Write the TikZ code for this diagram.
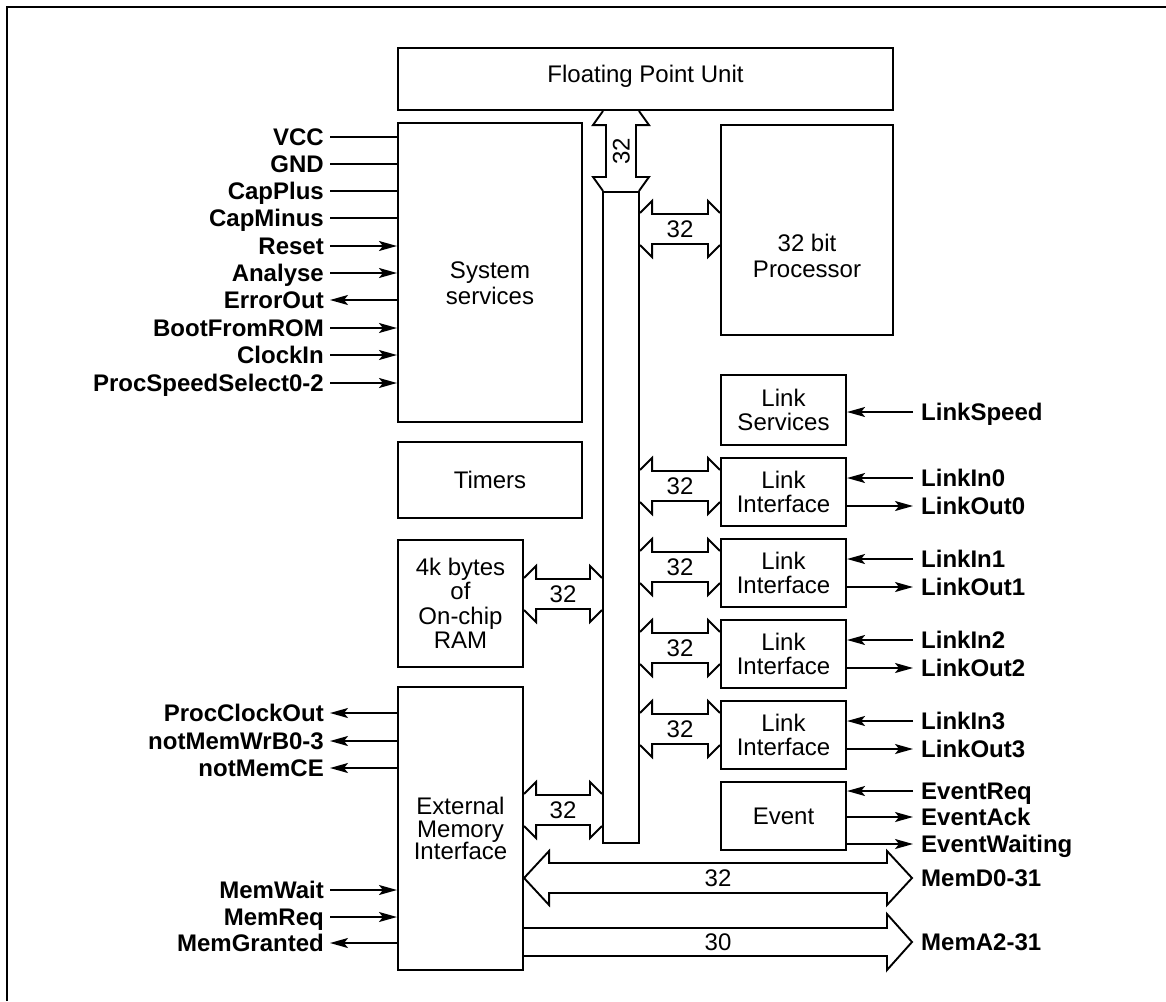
\documentclass[tikz,border=0pt]{standalone}
\usepackage{fontspec}
\setmainfont{Liberation Sans}
\usetikzlibrary{arrows.meta,calc}

%% 双向总线箭头（平头），#1 左端 / 上端，#2 右端 / 下端，#3 位宽
\newcommand{\hbus}[3]{%
  \draw[busline] let \p1=(#1), \p2=(#2) in
    (\x1,\y1+16pt) -- (\x1+12pt,\y1+28pt) -- (\x1+12pt,\y1+15pt) -- (\x2-12pt,\y1+15pt) -- (\x2-12pt,\y1+28pt) -- (\x2,\y1+16pt)
    (\x1,\y1-16pt) -- (\x1+12pt,\y1-28pt) -- (\x1+12pt,\y1-15pt) -- (\x2-12pt,\y1-15pt) -- (\x2-12pt,\y1-28pt) -- (\x2,\y1-16pt)
    ({0.5*\x1+0.5*\x2},\y1) node[buslbl] {#3};%
}
\newcommand{\vbus}[3]{%
  \draw[busline] let \p1=(#1), \p2=(#2) in
    (\x1-18pt,\y1) -- (\x1-28pt,\y1-14pt) -- (\x1-15pt,\y1-14pt) -- (\x1-15pt,\y2+14pt) -- (\x1-28pt,\y2+14pt) -- (\x1-18pt,\y2)
    (\x1+18pt,\y1) -- (\x1+28pt,\y1-14pt) -- (\x1+15pt,\y1-14pt) -- (\x1+15pt,\y2+14pt) -- (\x1+28pt,\y2+14pt) -- (\x1+18pt,\y2)
    (\x1,{0.5*\y1+0.5*\y2}) node[buslbl,rotate=90] {#3};%
}

\begin{document}
\begin{tikzpicture}[x=1pt, y=-1pt, line cap=butt, line join=miter,
  blk/.style={draw, line width=2.1pt, inner sep=0pt, align=center, font=\fontsize{24}{24.5}\selectfont},
  txt/.style={inner sep=0pt, align=center, font=\fontsize{24}{26}\selectfont},
  lbl/.style={inner sep=0pt, font=\fontsize{24}{26}\selectfont\bfseries, text height=17.2pt, text depth=0pt},
  buslbl/.style={inner sep=0pt, font=\fontsize{24}{26}\selectfont, text height=17.2pt, text depth=0pt},
  busline/.style={line width=1.9pt},
  sigln/.style={line width=1.8pt},
  sigarr/.style={line width=1.8pt, -{Stealth[length=18pt,width=10pt,inset=4pt]}}]

  %% ════ 外框 ════
  \draw[line width=2.2pt] (7,1001) -- (7,7) -- (1166,7);

  %% ════ 模块 ════
  \node[blk, minimum width=495, minimum height=62] (fpu) at (645.5,79) {};
  \node[txt] at (645.5,76) {Floating Point Unit};
  \node[blk, minimum width=184, minimum height=299] (sys) at (490,272.5) {};
  \node[txt] at (490,283) {System\\services};
  \node[blk, minimum width=184, minimum height=76] (tmr) at (490,480) {Timers};
  \node[blk, minimum width=125, minimum height=127] (ram) at (460.5,603.5) {4k bytes\\of\\On-chip\\RAM};
  \node[blk, minimum width=125, minimum height=283, font=\fontsize{24}{22.5}\selectfont] (ext) at (460.5,828.5) {External\\Memory\\Interface};
  \node[blk, minimum width=36, minimum height=651] (bus) at (621,517.5) {};
  \node[blk, minimum width=172, minimum height=210] (proc) at (807,230) {};
  \node[txt] at (807,256) {32 bit\\Processor};
  \node[blk, minimum width=125, minimum height=70] (lsvc) at (783.5,410) {Link\\Services};
  \node[blk, minimum width=125, minimum height=68] (li0) at (783.5,492) {Link\\Interface};
  \node[blk, minimum width=125, minimum height=68] (li1) at (783.5,573) {Link\\Interface};
  \node[blk, minimum width=125, minimum height=68] (li2) at (783.5,654) {Link\\Interface};
  \node[blk, minimum width=125, minimum height=68] (li3) at (783.5,735) {Link\\Interface};
  \node[blk, minimum width=125, minimum height=68] (event) at (783.5,816) {Event};

  %% ════ 内部总线 ════
  \coordinate (procport) at ([yshift=1pt]proc.west);
  \coordinate (li0port) at ([yshift=6pt]li0.west);
  \coordinate (li1port) at ([yshift=6pt]li1.west);
  \coordinate (li2port) at ([yshift=6pt]li2.west);
  \coordinate (li3port) at ([yshift=6pt]li3.west);
  \coordinate (ramport) at ([yshift=9.5pt]ram.east);
  \coordinate (extport) at ([yshift=18.5pt]ext.east);
  \vbus{fpu.south -| bus.north}{bus.north}{32}
  \hbus{procport -| bus.east}{procport}{32}
  \hbus{li0port -| bus.east}{li0port}{32}
  \hbus{li1port -| bus.east}{li1port}{32}
  \hbus{li2port -| bus.east}{li2port}{32}
  \hbus{li3port -| bus.east}{li3port}{32}
  \hbus{ramport}{ramport -| bus.west}{32}
  \hbus{extport}{extport -| bus.west}{32}

  %% ════ 左侧引脚 ════
  \node[lbl, anchor=east] (vcc)  at (324,137) {VCC};
  \node[lbl, anchor=east] (gnd)  at (324,164) {GND};
  \node[lbl, anchor=east] (capp) at (324,191) {CapPlus};
  \node[lbl, anchor=east] (capm) at (324,218) {CapMinus};
  \node[lbl, anchor=east] (rst)  at (324,246) {Reset};
  \node[lbl, anchor=east] (anl)  at (324,273) {Analyse};
  \node[lbl, anchor=east] (err)  at (324,300) {ErrorOut};
  \node[lbl, anchor=east] (boot) at (324,328) {BootFromROM};
  \node[lbl, anchor=east] (clk)  at (324,355) {ClockIn};
  \node[lbl, anchor=east] (pss)  at (324,383) {ProcSpeedSelect0-2};
  \draw[sigln]  ([xshift=6pt]vcc.east)  -- (vcc.east -| sys.west);
  \draw[sigln]  ([xshift=6pt]gnd.east)  -- (gnd.east -| sys.west);
  \draw[sigln]  ([xshift=6pt]capp.east) -- (capp.east -| sys.west);
  \draw[sigln]  ([xshift=6pt]capm.east) -- (capm.east -| sys.west);
  \draw[sigarr] ([xshift=6pt]rst.east)  -- (rst.east -| sys.west);
  \draw[sigarr] ([xshift=6pt]anl.east)  -- (anl.east -| sys.west);
  \draw[sigarr] (err.east -| sys.west)  -- ([xshift=6pt]err.east);
  \draw[sigarr] ([xshift=6pt]boot.east) -- (boot.east -| sys.west);
  \draw[sigarr] ([xshift=6pt]clk.east)  -- (clk.east -| sys.west);
  \draw[sigarr] ([xshift=6pt]pss.east)  -- (pss.east -| sys.west);

  \node[lbl, anchor=east] (pco)   at (324,713) {ProcClockOut};
  \node[lbl, anchor=east] (nwr)   at (324,741) {notMemWrB0-3};
  \node[lbl, anchor=east] (nce)   at (324,768) {notMemCE};
  \node[lbl, anchor=east] (mwait) at (324,890) {MemWait};
  \node[lbl, anchor=east] (mreq)  at (324,917) {MemReq};
  \node[lbl, anchor=east] (mgnt)  at (324,943) {MemGranted};
  \draw[sigarr] (pco.east -| ext.west)  -- ([xshift=6pt]pco.east);
  \draw[sigarr] (nwr.east -| ext.west)  -- ([xshift=6pt]nwr.east);
  \draw[sigarr] (nce.east -| ext.west)  -- ([xshift=6pt]nce.east);
  \draw[sigarr] ([xshift=6pt]mwait.east) -- (mwait.east -| ext.west);
  \draw[sigarr] ([xshift=6pt]mreq.east)  -- (mreq.east -| ext.west);
  \draw[sigarr] (mgnt.east -| ext.west) -- ([xshift=6pt]mgnt.east);

  %% ════ 右侧引脚 ════
  \node[lbl, anchor=west] (lspd)  at (921,412) {LinkSpeed};
  \node[lbl, anchor=west] (lin0)  at (921,478) {LinkIn0};
  \node[lbl, anchor=west] (lout0) at (921,506) {LinkOut0};
  \node[lbl, anchor=west] (lin1)  at (921,559) {LinkIn1};
  \node[lbl, anchor=west] (lout1) at (921,587) {LinkOut1};
  \node[lbl, anchor=west] (lin2)  at (921,640) {LinkIn2};
  \node[lbl, anchor=west] (lout2) at (921,668) {LinkOut2};
  \node[lbl, anchor=west] (lin3)  at (921,721) {LinkIn3};
  \node[lbl, anchor=west] (lout3) at (921,749) {LinkOut3};
  \node[lbl, anchor=west] (evreq) at (921,791) {EventReq};
  \node[lbl, anchor=west] (evack) at (921,817) {EventAck};
  \node[lbl, anchor=west] (evwt)  at (921,844) {EventWaiting};
  \node[lbl, anchor=west] (memd)  at (921,878) {MemD0-31};
  \node[lbl, anchor=west] (mema)  at (921,942) {MemA2-31};
  \draw[sigarr] ([xshift=-8pt]lspd.west) -- (lspd.west -| lsvc.east);
  \draw[sigarr] ([xshift=-8pt]lin0.west) -- (lin0.west -| li0.east);
  \draw[sigarr] (lout0.west -| li0.east) -- ([xshift=-8pt]lout0.west);
  \draw[sigarr] ([xshift=-8pt]lin1.west) -- (lin1.west -| li1.east);
  \draw[sigarr] (lout1.west -| li1.east) -- ([xshift=-8pt]lout1.west);
  \draw[sigarr] ([xshift=-8pt]lin2.west) -- (lin2.west -| li2.east);
  \draw[sigarr] (lout2.west -| li2.east) -- ([xshift=-8pt]lout2.west);
  \draw[sigarr] ([xshift=-8pt]lin3.west) -- (lin3.west -| li3.east);
  \draw[sigarr] (lout3.west -| li3.east) -- ([xshift=-8pt]lout3.west);
  \draw[sigarr] ([xshift=-8pt]evreq.west) -- (evreq.west -| event.east);
  \draw[sigarr] (evack.west -| event.east) -- ([xshift=-8pt]evack.west);
  \draw[sigarr] (evwt.west -| event.east) -- ([xshift=-8pt]evwt.west);

  %% ════ 外部存储总线 ════
  \coordinate (memdL) at ([yshift=-49.5pt]ext.east);
  \coordinate (memdR) at ([xshift=-9pt]memd.west);
  \coordinate (memaL) at ([yshift=-113.5pt]ext.east);
  \coordinate (memaR) at ([xshift=-9pt]mema.west);
  \draw[busline] let \p1=(memdL), \p2=(memdR) in
    (\x1,\y1) -- (\x1+25pt,\y1+27pt) -- (\x1+25pt,\y1+15pt) -- (\x2-25pt,\y1+15pt) -- (\x2-25pt,\y1+27pt) -- (\x2,\y1)
    -- (\x2-25pt,\y1-27pt) -- (\x2-25pt,\y1-15pt) -- (\x1+25pt,\y1-15pt) -- (\x1+25pt,\y1-27pt) -- cycle
    ({0.5*\x1+0.5*\x2},\y1) node[buslbl] {32};
  \draw[busline] let \p1=(memaL), \p2=(memaR) in
    (\x1,\y1+14pt) -- (\x2-25pt,\y1+14pt) -- (\x2-25pt,\y1+28pt) -- (\x2,\y1)
    -- (\x2-25pt,\y1-28pt) -- (\x2-25pt,\y1-14pt) -- (\x1,\y1-14pt)
    ({0.5*\x1+0.5*\x2},\y1) node[buslbl] {30};

  % 钉死画布
  \pgfresetboundingbox
  \path[use as bounding box] (0,0) rectangle (1166,1001);
\end{tikzpicture}
\end{document}
